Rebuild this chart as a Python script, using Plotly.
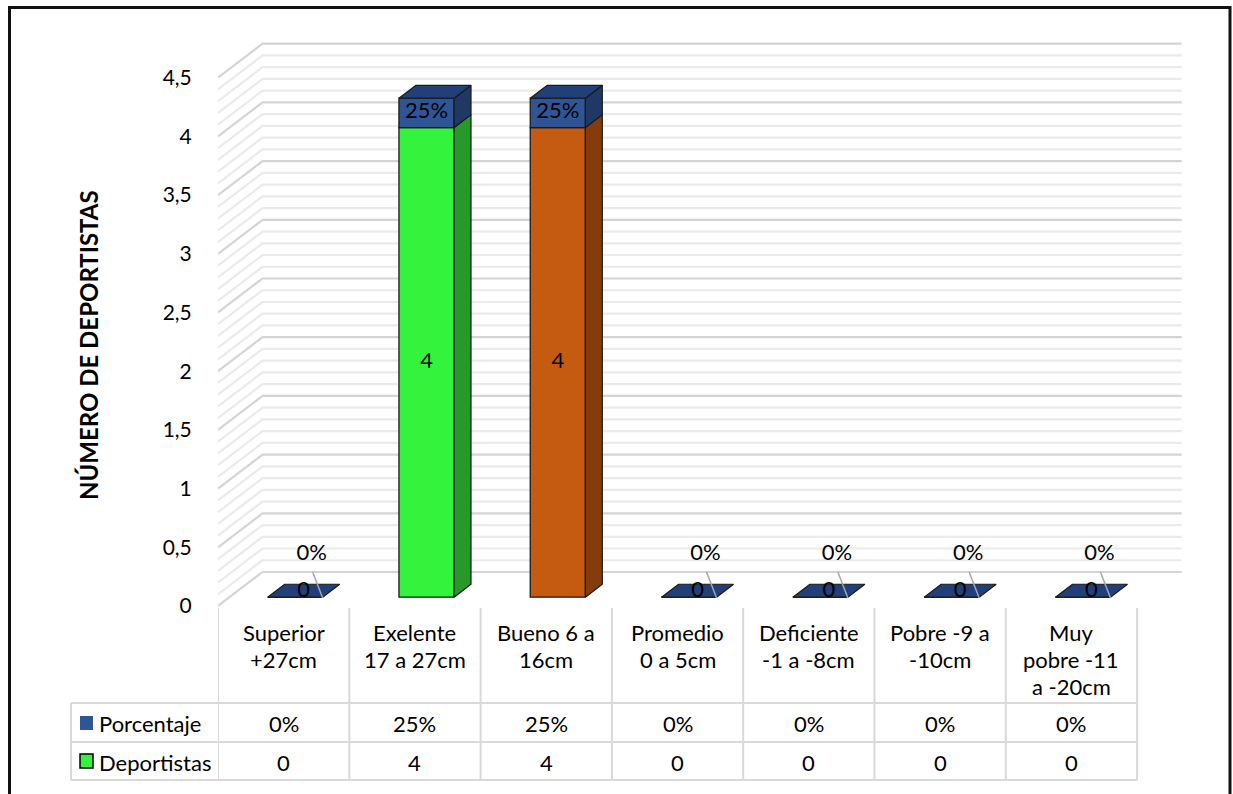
import plotly.graph_objects as go

# ---------------- data ----------------
categorias = [["Superior", "+27cm"], ["Exelente", "17 a 27cm"], ["Bueno 6 a", "16cm"],
              ["Promedio", "0 a 5cm"], ["Deficiente", "-1 a -8cm"], ["Pobre -9 a", "-10cm"],
              ["Muy", "pobre -11", "a -20cm"]]
deportistas = [0, 4, 4, 0, 0, 0, 0]
porcentaje = [0, 25, 25, 0, 0, 0, 0]          # percent
y_tickvals = [0, 0.5, 1, 1.5, 2, 2.5, 3, 3.5, 4, 4.5]
y_ticktext = ["0", "0,5", "1", "1,5", "2", "2,5", "3", "3,5", "4", "4,5"]
serie_nombres = ["Porcentaje", "Deportistas"]
eje_y_titulo = "NÚMERO DE DEPORTISTAS"

# ---------------- styles ----------------
dep_front = ["#33F33D", "#33F33D", "#C55A11", "#33F33D", "#33F33D", "#33F33D", "#33F33D"]
dep_side = ["#27992B", "#27992B", "#843C0C", "#27992B", "#27992B", "#27992B", "#27992B"]
pct_front, pct_side, pct_top = "#2F5597", "#1F3864", "#213F78"
EDGE = "#1A1A1A"
FONT = "Lato, sans-serif"
FS = 22

# ---------------- geometry (pixels) ----------------
W, H = 1233, 794
PX_L, PX_R, PX_T, PX_B = 218, 1190, 20, 612
CAT_PX, VAL_PX, ZERO_PX = 131.3, 117.4, 606
x_range = [-0.5, -0.5 + (PX_R - PX_L) / CAT_PX]
y_range = [(ZERO_PX - PX_B) / VAL_PX, (ZERO_PX - PX_T) / VAL_PX]
OX, OY = 44.5 / CAT_PX, 34 / VAL_PX       # full depth offset in data units
D1, D2 = 0.26, 0.64                       # bar depth (front/back fraction)
BW = 0.42
DX, DY = (D2 - D1) * OX, (D2 - D1) * OY


def pxx(p):
    return (p - PX_L) / (PX_R - PX_L)


def pxy(p):
    return (PX_B - p) / (PX_B - PX_T)


n = len(categorias)
idx = list(range(n))
pct_vals = [p / 100 for p in porcentaje]

fig = go.Figure()
shapes = []
annotations = []
txt_font = dict(family=FONT, size=FS, color="#000000")

# ---------------- walls / gridlines ----------------
wall_right = 6.5 + OX
for k in range(46):
    v = round(k * 0.1, 2)
    major = (k % 5 == 0)
    col = "#D4D4D4" if major else "#EAEAEA"
    shapes.append(dict(
        type="path", xref="x", yref="y", layer="below",
        path=f"M {-0.5} {v} L {-0.5 + OX} {v + OY} L {wall_right} {v + OY}",
        line=dict(color=col, width=2.2)))

# ---------------- bars (front faces) ----------------
fig.add_trace(go.Bar(
    x=[i + D1 * OX for i in idx], y=deportistas, base=[D1 * OY] * n, width=BW,
    marker=dict(color=dep_front, line=dict(color=EDGE, width=1.3)),
    name=serie_nombres[1], showlegend=False, hoverinfo="skip"))
fig.add_trace(go.Bar(
    x=[i + D1 * OX for i in idx], y=pct_vals,
    base=[d + D1 * OY for d in deportistas], width=BW,
    marker=dict(color=pct_front, line=dict(color=EDGE, width=1.3)),
    name=serie_nombres[0], showlegend=False, hoverinfo="skip"))


def poly(xs, ys, fill):
    fig.add_trace(go.Scatter(
        x=xs + [xs[0]], y=ys + [ys[0]], mode="lines", fill="toself",
        fillcolor=fill, line=dict(color=EDGE, width=1.2),
        showlegend=False, hoverinfo="skip"))


# side & top faces
for i in idx:
    x0 = i - BW / 2 + D1 * OX
    x1 = i + BW / 2 + D1 * OX
    b0 = D1 * OY
    t_dep = deportistas[i] + D1 * OY
    t_pct = deportistas[i] + pct_vals[i] + D1 * OY
    if deportistas[i] > 0:
        poly([x1, x1 + DX, x1 + DX, x1], [b0, b0 + DY, t_dep + DY, t_dep], dep_side[i])
    if pct_vals[i] > 0:
        poly([x1, x1 + DX, x1 + DX, x1], [t_dep, t_dep + DY, t_pct + DY, t_pct], pct_side)
    poly([x0, x0 + DX, x1 + DX, x1], [t_pct, t_pct + DY, t_pct + DY, t_pct], pct_top)

# ---------------- data labels ----------------
lab_x, lab_y, lab_t = [], [], []
lead_x, lead_y = [], []
for i in idx:
    cx = i + D1 * OX
    if deportistas[i] > 0:
        lab_x.append(cx); lab_y.append(deportistas[i] / 2 + D1 * OY)
    else:
        lab_x.append(cx + DX / 2); lab_y.append(D1 * OY + DY / 2 - 0.01)
    lab_t.append(f"{deportistas[i]}")
    if pct_vals[i] > 0:
        lab_x.append(cx); lab_y.append(deportistas[i] + pct_vals[i] / 2 + D1 * OY)
    else:
        lab_x.append(i + 28 / CAT_PX); lab_y.append(52 / VAL_PX)
        lead_x += [i + 29 / CAT_PX, i + 39 / CAT_PX, None]
        lead_y += [34 / VAL_PX, 8 / VAL_PX, None]
    lab_t.append(f"{porcentaje[i]}%")

fig.add_trace(go.Scatter(x=lead_x, y=lead_y, mode="lines",
                         line=dict(color="#A6A6A6", width=1.5),
                         showlegend=False, hoverinfo="skip"))
fig.add_trace(go.Scatter(x=lab_x, y=lab_y, mode="text", text=lab_t,
                         textposition="middle center", textfont=txt_font,
                         showlegend=False, hoverinfo="skip", cliponaxis=False))

# ---------------- category header (table) ----------------
for i, lines in enumerate(categorias):
    for j, line in enumerate(lines):
        annotations.append(dict(x=i, y=pxy(632 + 27 * j), xref="x", yref="paper",
                                xanchor="center", yanchor="middle", text=line,
                                showarrow=False, font=txt_font))

# ---------------- data table ----------------
TBL_C = "#D9D9D9"
row_top, row_mid, row_bot = 703, 742, 780
left_px = 71
for k in range(n + 1):
    xe = -0.5 + k
    shapes.append(dict(type="line", xref="x", yref="paper", x0=xe, x1=xe,
                       y0=pxy(608), y1=pxy(row_bot), line=dict(color=TBL_C, width=2)))
shapes.append(dict(type="line", xref="paper", yref="paper", x0=pxx(left_px), x1=pxx(left_px),
                   y0=pxy(row_top), y1=pxy(row_bot), line=dict(color=TBL_C, width=2)))
for ry in (row_top, row_mid, row_bot):
    shapes.append(dict(type="line", xref="paper", yref="paper", x0=pxx(left_px),
                       x1=pxx(218 + n * CAT_PX), y0=pxy(ry), y1=pxy(ry),
                       line=dict(color=TBL_C, width=2)))

y_row1 = (row_top + row_mid) / 2 + 1
y_row2 = (row_mid + row_bot) / 2 + 1
for i in idx:
    annotations.append(dict(x=i, y=pxy(y_row1), xref="x", yref="paper",
                            xanchor="center", yanchor="middle",
                            text=f"{porcentaje[i]}%", showarrow=False, font=txt_font))
    annotations.append(dict(x=i, y=pxy(y_row2), xref="x", yref="paper",
                            xanchor="center", yanchor="middle",
                            text=f"{deportistas[i]}", showarrow=False, font=txt_font))
for name, ry in ((serie_nombres[0], y_row1), (serie_nombres[1], y_row2)):
    annotations.append(dict(x=pxx(97), y=pxy(ry), xref="paper", yref="paper",
                            xanchor="left", yanchor="middle",
                            text=name, showarrow=False, font=txt_font))
# legend keys
shapes.append(dict(type="rect", xref="paper", yref="paper", x0=pxx(80), x1=pxx(93),
                   y0=pxy(730), y1=pxy(716), fillcolor=pct_front, line=dict(width=0)))
shapes.append(dict(type="rect", xref="paper", yref="paper", x0=pxx(80), x1=pxx(93),
                   y0=pxy(768), y1=pxy(754), fillcolor=dep_front[1],
                   line=dict(color="#000", width=1.5)))

# axis title
annotations.append(dict(x=pxx(88), y=pxy(345), xref="paper", yref="paper",
                        xanchor="center", yanchor="middle",
                        text=f"<b>{eje_y_titulo}</b>", textangle=-90, showarrow=False,
                        font=dict(family=FONT, size=24, color="#000")))

# outer border
shapes.append(dict(type="rect", xref="paper", yref="paper", x0=pxx(9.5), x1=pxx(1230),
                   y0=pxy(810), y1=pxy(7.5), line=dict(color="#111", width=3),
                   fillcolor="rgba(0,0,0,0)", layer="above"))

fig.update_layout(
    width=W, height=H, barmode="overlay",
    margin=dict(l=PX_L, r=W - PX_R, t=PX_T, b=H - PX_B, pad=0),
    paper_bgcolor="white", plot_bgcolor="white",
    font=txt_font,
    shapes=shapes, annotations=annotations, showlegend=False,
    xaxis=dict(range=x_range, tickvals=idx, showticklabels=False, showgrid=False,
               zeroline=False, showline=False, ticks="", fixedrange=True),
    yaxis=dict(range=y_range, tickvals=y_tickvals, ticktext=y_ticktext, showgrid=False,
               zeroline=False, showline=False, ticks="outside", ticklen=21,
               tickcolor="rgba(0,0,0,0)", tickfont=dict(family=FONT, size=21, color="#000"),
               fixedrange=True),
)

fig.write_html("out.html")
